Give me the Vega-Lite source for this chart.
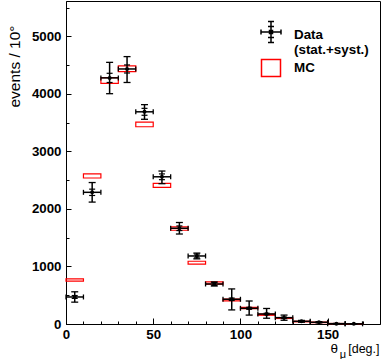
{
  "$schema": "https://vega.github.io/schema/vega-lite/v6.json",
  "width": 314,
  "height": 323,
  "autosize": "none",
  "padding": {"left": 66, "top": 1, "right": 1, "bottom": 35},
  "background": "white",
  "config": {
    "view": {"stroke": "black", "strokeWidth": 1},
    "style": {"guide-label": {"lineHeight": 14.5}},
    "axis": {
      "domainColor": "black", "tickColor": "black", "labelColor": "black", "titleColor": "black",
      "labelFont": "Liberation Sans", "labelFontWeight": "bold", "labelFontSize": 13.3,
      "titleFont": "Liberation Sans", "titleFontWeight": "normal", "grid": false,
      "tickWidth": 1, "domainWidth": 1, "labelFlush": false, "labelOverlap": false
    }
  },
  "datasets": {
    "bins": [
      {"lo": 0, "hi": 10, "c": 5, "d": 470, "tlo": 380, "thi": 560, "slo": 445, "shi": 495, "mc": 765, "mlo": 745, "mhi": 785},
      {"lo": 10, "hi": 20, "c": 15, "d": 2290, "tlo": 2120, "thi": 2460, "slo": 2235, "shi": 2345, "mc": 2574, "mlo": 2539, "mhi": 2609},
      {"lo": 20, "hi": 30, "c": 25, "d": 4280, "tlo": 4005, "thi": 4550, "slo": 4200, "shi": 4360, "mc": 4235, "mlo": 4185, "mhi": 4285},
      {"lo": 30, "hi": 40, "c": 35, "d": 4435, "tlo": 4200, "thi": 4650, "slo": 4365, "shi": 4505, "mc": 4440, "mlo": 4390, "mhi": 4490},
      {"lo": 40, "hi": 50, "c": 45, "d": 3690, "tlo": 3560, "thi": 3815, "slo": 3630, "shi": 3750, "mc": 3470, "mlo": 3430, "mhi": 3510},
      {"lo": 50, "hi": 60, "c": 55, "d": 2560, "tlo": 2440, "thi": 2660, "slo": 2510, "shi": 2610, "mc": 2412, "mlo": 2377, "mhi": 2447},
      {"lo": 60, "hi": 70, "c": 65, "d": 1665, "tlo": 1565, "thi": 1765, "slo": 1625, "shi": 1705, "mc": 1660, "mlo": 1630, "mhi": 1690},
      {"lo": 70, "hi": 80, "c": 75, "d": 1183, "tlo": 1133, "thi": 1233, "slo": 1150, "shi": 1216, "mc": 1066, "mlo": 1041, "mhi": 1091},
      {"lo": 80, "hi": 90, "c": 85, "d": 696, "tlo": 661, "thi": 731, "slo": 670, "shi": 722, "mc": 713, "mlo": 693, "mhi": 733},
      {"lo": 90, "hi": 100, "c": 95, "d": 430, "tlo": 245, "thi": 610, "slo": 409, "shi": 451, "mc": 417, "mlo": 402, "mhi": 432},
      {"lo": 100, "hi": 110, "c": 105, "d": 273, "tlo": 155, "thi": 400, "slo": 256, "shi": 290, "mc": 278, "mlo": 266, "mhi": 290},
      {"lo": 110, "hi": 120, "c": 115, "d": 174, "tlo": 100, "thi": 270, "slo": 161, "shi": 187, "mc": 162, "mlo": 152, "mhi": 172},
      {"lo": 120, "hi": 130, "c": 125, "d": 110, "tlo": 65, "thi": 155, "slo": 100, "shi": 120, "mc": 104, "mlo": 96, "mhi": 112},
      {"lo": 130, "hi": 140, "c": 135, "d": 47, "tlo": 32, "thi": 62, "slo": 40, "shi": 54, "mc": 43, "mlo": 38, "mhi": 48},
      {"lo": 140, "hi": 150, "c": 145, "d": 30, "tlo": 20, "thi": 40, "slo": 25, "shi": 35, "mc": 28, "mlo": 24, "mhi": 32},
      {"lo": 150, "hi": 160, "c": 155, "d": 6, "tlo": 3, "thi": 9, "slo": 4, "shi": 8, "mc": 7, "mlo": 5, "mhi": 9},
      {"lo": 160, "hi": 170, "c": 165, "d": 3, "tlo": 1, "thi": 5, "slo": 2, "shi": 4, "mc": 3, "mlo": 2, "mhi": 4}
    ],
    "leg": [{"s": "Data"}, {"s": "MC"}]
  },
  "resolve": {"axis": {"x": "independent", "y": "independent"}},
  "layer": [
    {
      "layer": [
        {
          "data": {"name": "bins"},
          "mark": {"type": "rect", "filled": false, "color": "#ff0000", "strokeWidth": 1.2},
          "encoding": {
            "x": {"field": "lo", "type": "quantitative", "scale": {"domain": [0, 180], "nice": false, "zero": false},
              "axis": {
                "orient": "bottom",
                "values": [0, 50, 100, 150],
                "tickSize": -6,
                "labelPadding": 9,
                "title": "[deg.]", "titleFontSize": 12.5, "titleAnchor": "end", "titleAlign": "right",
                "titleBaseline": "alphabetic", "titleX": 313, "titleY": 28
              }},
            "x2": {"field": "hi"},
            "y": {"field": "mlo", "type": "quantitative", "scale": {"domain": [0, 5617], "nice": false},
              "axis": {
                "orient": "left",
                "values": [0, 1000, 2000, 3000, 4000, 5000],
                "format": "d",
                "tickSize": -5,
                "labelPadding": 10,
                "title": "events / 10°", "titleFontSize": 15.5, "titleAngle": 270, "titleAlign": "right",
                "titleBaseline": "alphabetic", "titleX": -47, "titleY": 24
              }},
            "y2": {"field": "mhi"}
          }
        },
        {
          "data": {"name": "bins"},
          "mark": {"type": "rule", "color": "black", "strokeWidth": 1.5},
          "encoding": {
            "x": {"field": "lo", "type": "quantitative"},
            "x2": {"field": "hi"},
            "y": {"field": "d", "type": "quantitative"}
          }
        },
        {
          "data": {"name": "bins"},
          "mark": {"type": "rule", "color": "black", "strokeWidth": 1.5},
          "encoding": {
            "x": {"field": "c", "type": "quantitative"},
            "y": {"field": "tlo", "type": "quantitative"},
            "y2": {"field": "thi"}
          }
        },
        {
          "data": {"name": "bins"},
          "mark": {"type": "tick", "orient": "horizontal", "size": 7, "thickness": 1.3, "color": "black", "opacity": 1},
          "encoding": {
            "x": {"field": "c", "type": "quantitative"},
            "y": {"field": "tlo", "type": "quantitative"}
          }
        },
        {
          "data": {"name": "bins"},
          "mark": {"type": "tick", "orient": "horizontal", "size": 7, "thickness": 1.3, "color": "black", "opacity": 1},
          "encoding": {
            "x": {"field": "c", "type": "quantitative"},
            "y": {"field": "thi", "type": "quantitative"}
          }
        },
        {
          "data": {"name": "bins"},
          "mark": {"type": "tick", "orient": "horizontal", "size": 6, "thickness": 1.2, "color": "black", "opacity": 1},
          "encoding": {
            "x": {"field": "c", "type": "quantitative"},
            "y": {"field": "slo", "type": "quantitative"}
          }
        },
        {
          "data": {"name": "bins"},
          "mark": {"type": "tick", "orient": "horizontal", "size": 6, "thickness": 1.2, "color": "black", "opacity": 1},
          "encoding": {
            "x": {"field": "c", "type": "quantitative"},
            "y": {"field": "shi", "type": "quantitative"}
          }
        },
        {
          "data": {"name": "bins"},
          "mark": {"type": "tick", "orient": "vertical", "size": 5, "thickness": 1.3, "color": "black", "opacity": 1},
          "encoding": {
            "x": {"field": "lo", "type": "quantitative"},
            "y": {"field": "d", "type": "quantitative"}
          }
        },
        {
          "data": {"name": "bins"},
          "mark": {"type": "tick", "orient": "vertical", "size": 5, "thickness": 1.3, "color": "black", "opacity": 1},
          "encoding": {
            "x": {"field": "hi", "type": "quantitative"},
            "y": {"field": "d", "type": "quantitative"}
          }
        },
        {
          "data": {"name": "bins"},
          "mark": {"type": "point", "filled": true, "shape": "circle", "size": 16, "color": "black", "opacity": 1},
          "encoding": {
            "x": {"field": "c", "type": "quantitative"},
            "y": {"field": "d", "type": "quantitative"}
          }
        },
        {
          "data": {"name": "leg"},
          "transform": [{"filter": "false"}],
          "mark": {"type": "point", "filled": false, "strokeWidth": 1.5, "opacity": 1},
          "encoding": {
            "color": {"field": "s", "type": "nominal",
              "scale": {"domain": ["Data", "MC"], "range": ["black", "#ff0000"]},
              "legend": {"title": null, "orient": "none", "legendX": 194, "legendY": 23, "padding": 0,
                "symbolSize": 400, "symbolStrokeWidth": 1.5, "labelFont": "Liberation Sans", "labelFontWeight": "bold",
                "labelFontSize": 13.4, "labelColor": "black", "labelOffset": 12, "rowPadding": 0, "labelLimit": 0,
                "labelBaseline": "middle",
                "labelExpr": "datum.label === 'Data' ? ['Data', '\u00a0\u00a0(stat.+syst.)'] : datum.label"}},
            "shape": {"field": "s", "type": "nominal",
              "scale": {"domain": ["Data", "MC"], "range": [
                "M-1,-0.3H1M0,-1.35V0.75M-0.3,-1.35H0.3M-0.3,0.75H0.3M-0.3,-0.85H0.3M-0.3,0.25H0.3M-1,-0.55V-0.05M1,-0.55V-0.05M-0.15,-0.45H0.15V-0.15H-0.15Z",
                "M-0.95,-0.85H0.95V0.85H-0.95Z"]},
              "legend": {"title": null, "orient": "none", "legendX": 194, "legendY": 23, "padding": 0,
                "symbolSize": 400, "symbolStrokeWidth": 1.5, "labelFont": "Liberation Sans", "labelFontWeight": "bold",
                "labelFontSize": 13.4, "labelColor": "black", "labelOffset": 12, "rowPadding": 0, "labelLimit": 0,
                "labelBaseline": "middle",
                "labelExpr": "datum.label === 'Data' ? ['Data', '\u00a0\u00a0(stat.+syst.)'] : datum.label"}}
          }
        }
      ]
    },
    {
      "data": {"name": "bins"},
      "mark": {"type": "point", "opacity": 0},
      "encoding": {
        "x": {"field": "c", "type": "quantitative",
          "axis": {"orient": "bottom", "values": [10, 20, 30, 40, 60, 70, 80, 90, 110, 120, 130, 140, 160, 170],
            "labels": false, "tickSize": -3, "domain": false,
            "title": "μ", "titleFontSize": 11, "titleAlign": "center", "titleBaseline": "alphabetic",
            "titleX": 276.5, "titleY": 33}},
        "y": {"field": "d", "type": "quantitative",
          "axis": {"orient": "left", "values": [500, 1500, 2500, 3500, 4500, 5500],
            "labels": false, "title": null, "tickSize": -3, "domain": false}}
      }
    },
    {
      "data": {"name": "bins"},
      "mark": {"type": "point", "opacity": 0},
      "encoding": {
        "x": {"field": "c", "type": "quantitative",
          "axis": {"orient": "bottom", "labels": false, "ticks": false, "domain": false,
            "title": "θ", "titleFontSize": 13.5, "titleAlign": "right", "titleBaseline": "alphabetic",
            "titleX": 271.5, "titleY": 28}},
        "y": {"field": "d", "type": "quantitative", "axis": null}
      }
    }
  ]
}
